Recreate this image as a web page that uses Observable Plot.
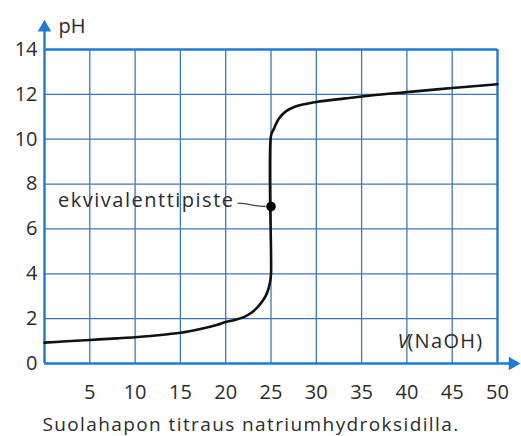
<!DOCTYPE html>
<html>
<head>
<meta charset="utf-8">
<script src="https://cdn.jsdelivr.net/npm/d3@7"></script>
<script src="https://cdn.jsdelivr.net/npm/@observablehq/plot@0.6"></script>
<style>
  html, body { margin: 0; padding: 0; background: #fff; }
  svg { display: block; }
</style>
</head>
<body>
<div id="chart"></div>
<script>
// Data
const volume = [0, 2, 5, 8, 10, 12, 15, 17.2, 19, 20, 21, 22, 22.8, 23.5, 24, 24.4, 24.7, 24.9, 25, 25, 25.3, 25.85, 26.6, 27.7, 30, 33.2, 36, 40, 45, 50];
const pH     = [0.93, 0.98, 1.05, 1.12, 1.17, 1.24, 1.37, 1.54, 1.72, 1.85, 1.94, 2.07, 2.25, 2.5, 2.75, 3.0, 3.3, 3.65, 4.0, 10.15, 10.45, 10.9, 11.23, 11.46, 11.66, 11.82, 11.95, 12.1, 12.28, 12.45];
const xTicks = [5, 10, 15, 20, 25, 30, 35, 40, 45, 50];
const yTicks = [0, 2, 4, 6, 8, 10, 12, 14];
const xGrid = [5, 10, 15, 20, 25, 30, 35, 40, 45];
const yGrid = [2, 4, 6, 8, 10, 12];
const equivalence = [{V: 25, pH: 7}];
const equivalenceLabel = "ekvivalenttipiste";
const yLabel = "pH";
const xLabelVar = "V";
const xLabelRest = "(NaOH)";
const caption = "Suolahapon titraus natriumhydroksidilla.";

const curve = volume.map((v, i) => ({V: v, pH: pH[i]}));

const FONT = "Open Sans";
const AXIS = "#1f7ad6";
const GRID = "#3d78b4";
const TEXT = "#2b2b2b";

const chart = Plot.plot({
  width: 521,
  height: 436,
  marginLeft: 44,
  marginRight: 24,
  marginTop: 49,
  marginBottom: 73,
  x: {domain: [0, 50], axis: null},
  y: {domain: [0, 14], axis: null},
  style: {fontFamily: FONT, background: "#fff"},
  marks: [
    // grid
    Plot.ruleX(xGrid, {y1: 0, y2: 14, stroke: GRID, strokeWidth: 1.3}),
    Plot.ruleY(yGrid, {x1: 0, x2: 50, stroke: GRID, strokeWidth: 1.3}),
    // top and right border
    Plot.ruleY([14], {x1: 0, x2: 50, stroke: AXIS, strokeWidth: 2.4}),
    Plot.ruleX([50], {y1: 0, y2: 14, stroke: AXIS, strokeWidth: 2.4}),
    // axes with arrows
    Plot.ruleX([0], {y1: 0, y2: 14.9, stroke: AXIS, strokeWidth: 2.4}),
    Plot.ruleY([0], {x1: 0, x2: 51.6, stroke: AXIS, strokeWidth: 2.4}),
    Plot.dot([{x: 0, y: 14.98}], {x: "x", y: "y", symbol: "triangle", r: 5, fill: AXIS, stroke: null}),
    Plot.dot([{x: 51.68, y: 0}], {x: "x", y: "y", symbol: "triangle", r: 5, fill: AXIS, stroke: null, rotate: 90}),
    // tick labels
    Plot.text(yTicks, {x: 0, y: d => d, text: d => String(d), textAnchor: "end", dx: -7, fontSize: 20, fill: TEXT}),
    Plot.text(xTicks, {x: d => d, text: d => String(d), frameAnchor: "bottom", dy: 35, fontSize: 20, fill: TEXT}),
    // axis labels
    Plot.text([yLabel], {x: 0, y: 15.1, text: d => d, textAnchor: "start", dx: 14, dy: 2, fontSize: 20, fill: TEXT}),
    Plot.text([xLabelRest], {x: 50, y: 0, text: d => d, textAnchor: "end", dx: -14, dy: -22, fontSize: 20, fill: TEXT}),
    Plot.text([xLabelVar], {x: 50, y: 0, text: d => d, textAnchor: "start", dx: -100, dy: -22, fontSize: 20, fontStyle: "italic", fill: TEXT}),
    // curve
    Plot.line(curve, {x: "V", y: "pH", curve: "catmull-rom", stroke: "#111", strokeWidth: 2.6}),
    // equivalence point
    Plot.link(equivalence, {x1: 21.3, y1: 7.15, x2: 24.4, y2: 7.0, stroke: "#444", strokeWidth: 1.3, curve: "bump-x"}),
    Plot.dot(equivalence, {x: "V", y: "pH", r: 4.8, fill: "#000", stroke: null}),
    Plot.text([equivalenceLabel], {x: 1.5, y: 7.25, text: d => d, textAnchor: "start", fontSize: 20, fill: TEXT}),
    // caption
    Plot.text([caption], {frameAnchor: "bottom", dx: -20, dy: 67, text: d => d, fontSize: 19, fill: TEXT})
  ]
});
const spacing = new Map([[equivalenceLabel, "1.5px"], [caption, "1.4px"], [xLabelRest, "1.3px"]]);
d3.select(chart).selectAll("text").each(function() {
  const s = spacing.get(this.textContent);
  if (s) this.setAttribute("letter-spacing", s);
});
document.getElementById("chart").appendChild(chart);
</script>
</body>
</html>
